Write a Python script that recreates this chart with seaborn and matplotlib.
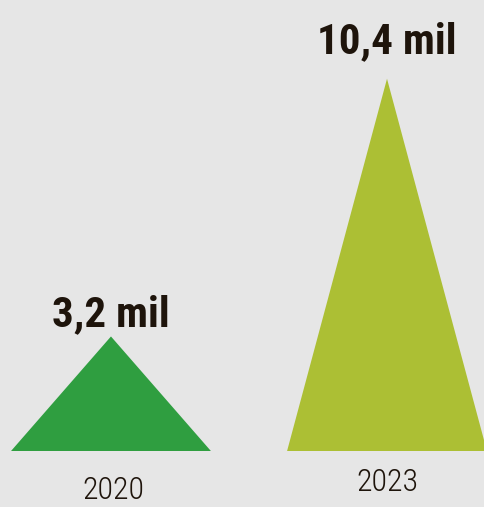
import matplotlib
matplotlib.use("Agg")
import matplotlib.pyplot as plt
from matplotlib import font_manager
import seaborn as sns

# data
years = ["2020", "2023"]
values = [3.2, 10.4]
value_labels = ["3,2 mil", "10,4 mil"]
colors = ["#2f9e40", "#acbf34"]

bg = "#e6e6e6"
ink = "#1e140b"

# pick a narrow face if one is installed
installed = {f.name for f in font_manager.fontManager.ttflist}
narrow = [n for n in ["Roboto Condensed", "Liberation Sans Narrow", "Open Sans Condensed",
                      "DejaVu Sans Condensed", "Noto Sans Condensed"] if n in installed]

sns.set_theme(style="white")
plt.rcParams["font.family"] = narrow[:1] + ["DejaVu Sans"]

big = 31 if narrow else 26
small = 23 if narrow else 20

fig = plt.figure(figsize=(4.85, 5.07), dpi=100, facecolor=bg)
ax = fig.add_axes([0, 56 / 507, 1, 451 / 507])
ax.set_facecolor(bg)

half = 0.362
for i, (v, c) in enumerate(zip(values, colors)):
    ax.fill([i - half, i, i + half], [0, v, 0], color=c, lw=0)

# value labels above the apex
ax.annotate(value_labels[0], (0, values[0]), xytext=(0, 7.2), textcoords="offset points",
            ha="center", va="baseline", fontsize=big, fontweight="bold", color=ink)
ax.annotate(value_labels[1], (1, values[1]), xytext=(0, 18.7), textcoords="offset points",
            ha="center", va="baseline", fontsize=big, fontweight="bold", color=ink)

# year labels below the base
ax.text(0.01, -1.09, years[0], ha="center", va="center", fontsize=small, color=ink,
        fontweight="light", clip_on=False)
ax.text(1, -0.89, years[1], ha="center", va="center", fontsize=small, color=ink,
        fontweight="light", clip_on=False)

ax.set_xlim(-0.402, 1.355)
ax.set_ylim(0, 12.6)
ax.set_axis_off()

fig.savefig("out.png", dpi=100, facecolor=bg)
